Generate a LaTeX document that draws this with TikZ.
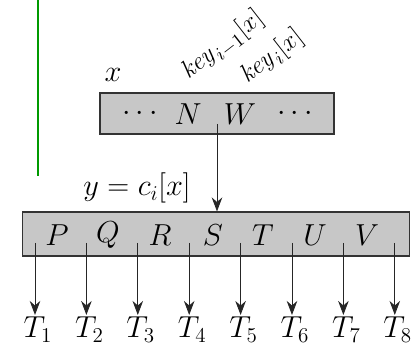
\documentclass[tikz,border=0pt]{standalone}
\usetikzlibrary{arrows.meta}

\begin{document}
\begin{tikzpicture}[x=0.02cm,y=0.02cm,
    keybox/.style={draw=black!80,fill=black!22,line width=0.6pt,inner sep=0pt},
    lbl/.style={font=\fontsize{16.5}{18}\selectfont},
    keylbl/.style={font=\fontsize{15}{17}\selectfont,rotate=38,anchor=base west,inner sep=0pt},
    ptr/.style={-{Stealth[length=8pt,width=6pt]},line width=0.5pt,black!85}]
    \useasboundingbox (0,0) rectangle (414,352);

    % green margin rule
    \draw[green!60!black,line width=1.3pt] (38,352) -- (38,176);

    % Parent node x
    \node[keybox,minimum width=4.68cm,minimum height=0.82cm] (px) at (217,238.5) {};
    \node[lbl] (pdl) at (140,238) {$\cdots$};
    \node[lbl] (pN) at (188,238) {$N$};
    \node[lbl] (pW) at (240,238) {$W$};
    \node[lbl] (pdr) at (295,238) {$\cdots$};
    \node[lbl] (xlab) at (113,277) {$x$};
    \node[keylbl] (kprev) at (188,272) {$\mathit{key}_{i-1}[x]$};
    \node[keylbl] (kcur) at (247,268) {$\mathit{key}_{i}[x]$};

    % Child node y
    \node[keybox,minimum width=7.76cm,minimum height=0.88cm] (cy) at (216,118) {};
    \node[lbl] (ylab) at (137,164) {$y = c_i[x]$};
    \coordinate (ci) at (217,228);
    \draw[ptr] (ci) -- (ci |- cy.north);

    \foreach \k/\x in {P/57,Q/108,R/160,S/213,T/263,U/315,V/367}
        \node[lbl] (k\k) at (\x,117) {$\k$};

    % Subtrees
    \foreach \i in {1,...,8} {
        \coordinate (c\i) at ({35+51.4*(\i-1)},109);
        \node[lbl,anchor=north,inner sep=1pt] (t\i) at ({38+51.4*(\i-1)},37) {$T_{\i}$};
        \draw[ptr] (c\i) -- (c\i |- t\i.north);
    }
\end{tikzpicture}
\end{document}
